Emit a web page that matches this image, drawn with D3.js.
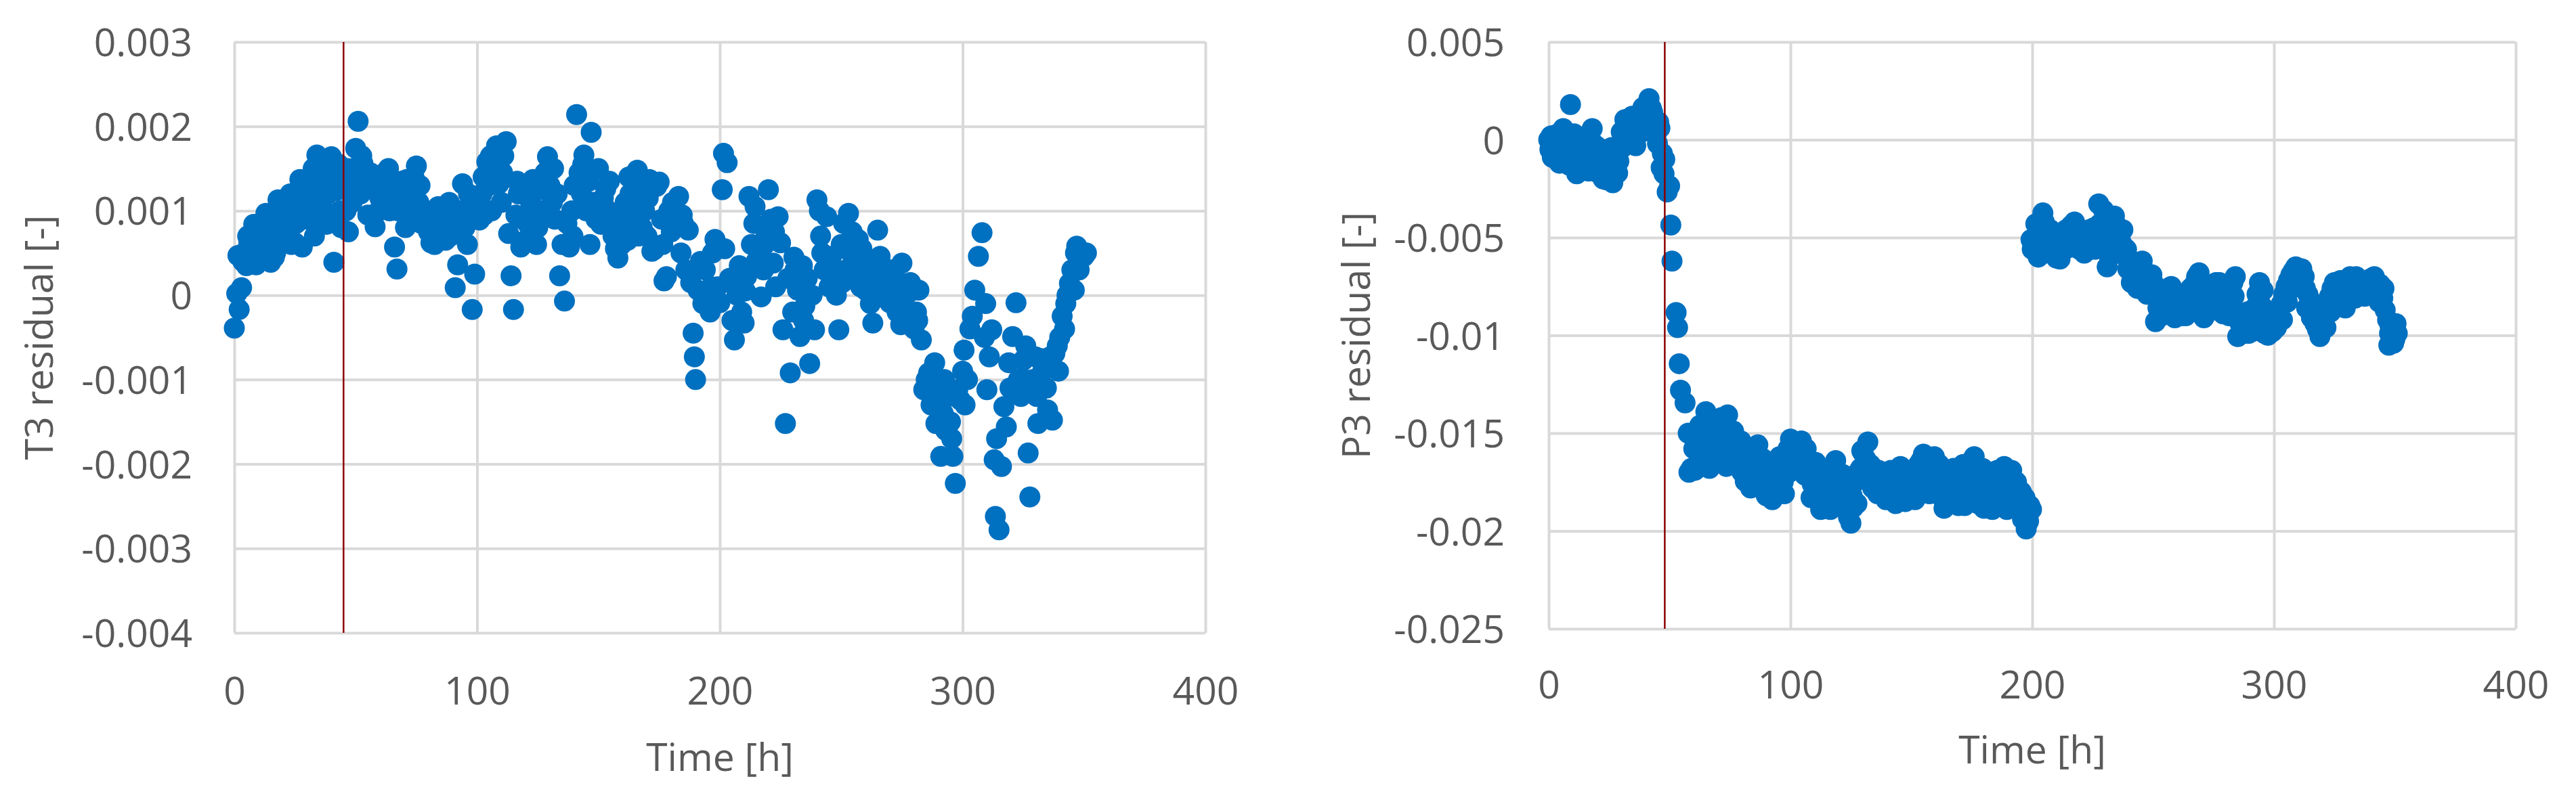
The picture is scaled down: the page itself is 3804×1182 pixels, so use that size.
<!DOCTYPE html>
<html><head><meta charset="utf-8">
<script src="https://cdn.jsdelivr.net/npm/d3@7"></script>
<style>html,body{margin:0;padding:0;background:#fff;} svg{display:block;}</style>
</head><body>
<svg id="c" width="3804" height="1182"></svg>
<script>
// ---------- data ----------
const timeTicks = [0, 100, 200, 300, 400];
const timeTickLabels = ["0", "100", "200", "300", "400"];

// residual values are stored in units of 1e-3
const t3Ticks = [3, 2, 1, 0, -1, -2, -3, -4];
const t3TickLabels = ["0.003", "0.002", "0.001", "0", "-0.001", "-0.002", "-0.003", "-0.004"];
const p3Ticks = [5, 0, -5, -10, -15, -20, -25];
const p3TickLabels = ["0.005", "0", "-0.005", "-0.01", "-0.015", "-0.02", "-0.025"];

const t3EventTime = 45;
const p3EventTime = 48;

const t3Time = [
  0,1,1.5,2,3,3.5,4,5,6,7,
  8,9,10,11,12,13,14,15,16,17,
  18,19,20,21,22,23,24,25,26,27,
  28,29,30,31,32,33,34,35,36,37,
  38,39,40,41,42,43,44,45,46,47,
  48,49,50,51,52,53,54,55,56,57,
  58,59,60,61,62,63,64,65,66,67,
  68,69,70,71,72,73,74,75,76,77,
  78,79,80,81,82,83,84,85,86,87,
  88,89,90,91,92,93,94,95,96,97,
  98,99,100,101,102,103,104,105,106,107,
  108,109,110,111,112,113,114,115,116,117,
  118,119,120,121,122,123,124,125,126,127,
  128,129,130,131,132,133,134,135,136,137,
  138,139,140,141,142,143,144,145,146,147,
  148,149,150,151,152,153,154,155,156,157,
  158,159,160,161,162,163,164,165,166,167,
  168,169,170,171,172,173,174,175,176,177,
  178,179,180,181,182,183,184,185,186,187,
  188,189,189.5,190,191,192,193,194,195,196,
  197,198,199,200,201,201.5,203,204,205,206,
  207,208,209,210,211,212,213,214,215,216,
  217,218,219,220,221,222,223,224,225,226,
  227,228,229,230,231,232,233,234,235,236,
  237,238,239,240,241,242,243,244,245,246,
  247,248,249,250,251,252,253,254,255,256,
  257,258,259,260,261,262,263,264,265,266,
  267,268,269,270,271,272,273,274,275,276,
  277,278,279,280,281,282,283,284,285,286,
  287,288,289,290,291,292,293,294,295,296,
  297,298,299,300,300.6,302,303,304,305,306.5,
  308,309,310,311,312,313,313.5,315,316,317,
  318,319,320.6,322,323,324,325,326,327,327.7,
  329,330,331,332,333,334,335,336,337,338,
  339,340,341,342,343,344,345,346,347,348,
  349,350,351,
  5.5,9.5,12.5,16.5,19.5,23.5,25.5,29.5,32.5,35.5,
  38.5,43.5,46.5,48.5,52.5,55.5,59.5,63.5,67.5,70.5,
  73.5,76.5,79.5,82.5,85.5,88.5,93.5,96.5,102.5,105.5,
  110.5,116.5,120.5,124.5,127.5,131.5,139.5,143.5,146.5,150.5,
  154.5,159.5,162.5,166.5,170.5,176.5,180.5,184.5,196.5,202,
  206.5,210.5,214.5,218.5,222.5,230.5,234.5,241.5,245.5,250.5,
  254.5,258.5,262.5,266.5,270.5,274.5,278.5,281.5,288.5,292.5,
  295.5,301,309.5,314,319.5,325.5,330.5,334.5,339.5,342.5,
  346.5
];
const t3Residual = [
  -0.39,0.02,0.47,-0.17,0.09,0.4,0.5,0.35,0.62,0.42,
  0.84,0.36,0.55,0.7,0.45,0.97,0.6,0.39,0.75,0.5,
  1.13,0.9,0.65,1.05,0.78,1.2,0.95,0.62,1.1,1.37,
  0.57,1.25,0.9,1.4,1.15,0.7,1.66,1.3,1.56,1.0,
  0.84,1.45,1.64,0.39,1.24,1.55,0.8,1.35,1.0,0.75,
  1.3,1.5,1.74,2.06,1.2,1.56,1.4,0.95,1.45,1.37,
  0.81,1.3,1.15,1.24,1.45,1.3,1.0,1.25,0.57,0.31,
  1.1,1.35,1.2,1.37,0.95,1.15,1.4,1.53,1.1,0.85,
  0.89,1.0,0.75,0.62,0.9,0.7,1.05,1.0,0.8,0.65,
  0.95,0.7,0.84,0.09,0.36,1.0,1.32,0.8,0.6,0.97,
  -0.17,0.25,1.1,0.89,1.2,0.95,1.58,1.3,1.0,1.5,
  1.77,1.32,1.1,1.65,1.82,0.73,0.23,-0.17,0.95,1.2,
  0.57,0.9,0.65,0.84,1.1,1.37,1.0,0.8,1.0,1.25,
  1.45,1.64,1.3,1.1,0.9,1.2,0.23,0.6,-0.07,0.85,
  0.57,1.0,1.3,2.14,1.45,1.2,1.66,1.0,1.35,1.93,
  1.1,0.9,1.5,0.84,1.15,1.26,1.0,0.8,0.7,0.55,
  0.44,0.9,0.84,1.1,0.65,1.2,0.95,1.3,1.48,1.1,
  0.8,1.0,0.7,1.37,0.52,0.54,1.29,1.34,0.9,0.17,
  0.22,1.0,0.75,0.95,0.85,1.17,0.5,0.85,0.3,0.77,
  0.15,-0.45,-0.73,-1.0,0.06,0.4,-0.1,0.3,0.05,-0.2,
  0.5,0.66,0.1,-0.09,1.25,1.68,1.57,0.2,-0.3,-0.53,
  0.0,0.35,-0.2,-0.33,0.22,1.17,0.6,0.85,0.4,0.5,
  -0.02,0.3,0.7,1.25,0.9,0.38,0.1,0.93,0.62,-0.41,
  -1.52,0.2,-0.92,-0.2,0.3,0.06,-0.49,0.35,-0.13,0.2,
  -0.81,0.0,-0.41,1.13,1.0,0.5,0.3,0.93,0.1,0.46,
  0.2,0.0,-0.41,0.6,0.85,0.3,0.97,0.5,0.22,0.4,
  0.66,0.1,0.3,0.06,0.35,-0.1,-0.33,0.2,0.77,0.46,
  0.1,0.0,0.25,-0.09,0.1,0.22,-0.2,0.0,0.38,-0.1,
  -0.33,-0.25,0.05,-0.4,-0.2,0.06,-0.53,-1.12,-1.0,-0.92,
  -1.3,-1.1,-1.52,-1.24,-1.91,-1.4,-1.6,-1.2,-1.5,-1.91,
  -2.23,-1.12,-1.24,-0.9,-0.65,-1.0,-0.4,-0.25,0.06,0.46,
  0.74,-0.5,-1.12,-0.73,-0.41,-1.95,-2.62,-2.78,-2.03,-1.32,
  -1.56,-0.8,-0.49,-0.09,-1.0,-1.2,-0.77,-0.6,-1.87,-2.39,
  -1.0,-0.73,-1.52,-0.75,-0.9,-0.8,-1.36,-0.73,-1.48,-0.69,
  -0.6,-0.5,-0.25,-0.4,0.0,0.14,0.3,0.06,0.58,0.3,
  0.5,0.46,0.5,
  0.7,0.5,0.85,0.45,0.7,0.6,0.85,1.0,1.5,0.85,
  1.2,1.0,1.5,1.1,1.65,1.3,1.0,1.5,1.0,0.8,
  1.25,1.3,0.95,0.6,0.85,1.1,0.75,1.2,1.4,1.65,
  1.45,1.35,1.2,0.6,0.95,1.5,0.7,1.55,0.6,1.1,
  1.35,0.6,1.4,0.7,1.15,0.6,1.1,0.95,0.1,0.55,
  0.1,0.05,1.05,0.6,0.75,0.45,-0.3,0.7,0.35,0.15,
  0.75,0.55,0.3,0.2,0.3,-0.35,0.15,-0.3,-0.8,-1.0,
  -1.7,-1.3,-0.1,-1.7,-1.1,-1.0,-1.2,-1.1,-0.9,-0.1,
  0.5
];

const p3Time = [
  0,0.5,1,2,3,4,5,6,7,8,
  9,10,11,11.6,12,13,14,15,16,17,
  18,19,20,21,22,23,24,25,26.5,27,
  28,29,30,31.5,32,33,34,35,36.5,37,
  38,39,40,41.5,42,43,44,45,46,46.5,
  47,47.7,48,49,50,50.5,51,52.7,53.3,54,
  54.5,56.4,57.7,58,59,60,61.4,62,63,65,
  65.5,66,67,68,69,70,71,72,73,74,
  75,76,77.6,78,79,80,81.3,82,83,84,
  85,86,87,88,89,90,91,92,93,94,
  95,96,97,98,99,100,101,102,103.7,104,
  105,106,107,108,109,110,111,112,113,114,
  115,116,117,118.7,119,120,121,122,123,124,
  125,126,127,128,129,130,131,132,133,133.6,
  134,135,136,137,138.6,139,140,141,142,143,
  144,145,146,147,148,149,150,151,152,153,
  154,155,156,157,158,159,160,161,162,163.5,
  164,165,166,167,168,169,170,171,172,173,
  174,175,176,177,178,179,180,181,182,183,
  184,185,186,187,188.4,189,190,191,192.5,193,
  194,195,196,197.5,198,199,199.5,200,201,202,
  203,204.4,205,206,207,208,209,210,211,212,
  213,214,215,216,217.5,218,219,220,221,222,
  223,224,225,226,227.5,228,229,230,231,232,
  233,234,235,236,237,238,239,240,241,242,
  243,244,245,246,247,248,249,250,251,252,
  253,254,255,256,257,258,259,260,261,262,
  263,264,265,266,267,268,269,270,271,272,
  273,274,275,276,277,278,279,280,281,282,
  283,284,285,286,287,288,289,290,291,292,
  293,294,295,296,297,298,299,300,301,302.5,
  303,304,305,306,307,308,309,310,311,312.5,
  313,314,315,316,317,318,319,320,321,322,
  323,324,325,326,327,328,329,330,331,332,
  333,334,335,336,337,338,339,340,341,342,
  343,344,345,346,347,347.5,348,349,350,351,
  1.5,2.5,4.5,6.5,8.5,10.5,12.5,14.5,16.5,18.5,
  20.5,22.5,24.5,26,28.5,30.5,32.5,34.5,36,38.5,
  40.5,42.5,44.5,45.5,
  60.5,62.5,64,66.5,69.5,71.5,73.5,76.5,79.5,83.5,
  86.5,88.5,90.5,92.5,95.5,97.5,99.5,101.5,104.5,106.5,
  108.5,110.5,112.5,114.5,116.5,119.5,121.5,123.5,125.5,127.5,
  129.5,131.5,134.5,136.5,139.5,141.5,143.5,145.5,147.5,149.5,
  151.5,153.5,155.5,157.5,159.5,161.5,163,165.5,167.5,169.5,
  171.5,173.5,175.5,177.5,179.5,181.5,183.5,185.5,187.5,189.5,
  191.5,193.5,195.5,197,198.5,199.7,
  200.5,201.5,202.5,204,205.5,207.5,209.5,211.5,213.5,215.5,
  217,219.5,221.5,223.5,225.5,227,229.5,231.5,233.5,235.5,
  237.5,239.5,241.5,243.5,245.5,247.5,249.5,251.5,253.5,255.5,
  257.5,259.5,261.5,263.5,265.5,267.5,269.5,271.5,273.5,275.5,
  277.5,279.5,281.5,283.5,285.5,287.5,289.5,291.5,293.5,295.5,
  297.5,299.5,301.5,303.5,305.5,307.5,309.5,311.5,313.5,315.5,
  317.5,319.5,321.5,323.5,325.5,327.5,329.5,331.5,333.5,335.5,
  337.5,339.5,341.5,343.5,345.5,347.8,349.5,350.5
];
const p3Residual = [
  0.0,-0.5,0.2,-0.3,0.26,-0.6,-0.1,0.57,-0.8,-0.3,
  1.8,-0.5,-1.0,-1.74,-0.8,-0.3,-0.05,-0.9,-0.4,0.2,
  0.57,-0.6,-0.35,-1.2,-0.9,-1.6,-2.05,-1.4,-2.2,-1.2,
  -0.6,-1.1,0.4,1.03,0.3,-0.2,0.8,0.2,0.57,1.2,
  0.9,1.65,1.3,2.1,1.0,1.4,1.03,-0.2,0.6,-1.43,
  -0.7,-1.74,-1.0,-2.67,-2.36,-4.36,-6.2,-8.83,-9.6,-11.45,
  -12.8,-13.45,-15.0,-17.0,-16.8,-15.8,-16.7,-15.2,-16.0,-13.9,
  -16.2,-15.0,-14.8,-15.6,-14.5,-15.45,-16.2,-15.0,-15.6,-14.07,
  -15.2,-16.0,-15.6,-16.5,-16.8,-17.0,-17.46,-16.6,-16.2,-16.9,
  -15.9,-16.5,-17.2,-17.8,-17.4,-18.2,-17.6,-17.0,-17.9,-17.2,
  -17.46,-16.8,-17.5,-16.4,-15.8,-15.3,-15.6,-16.1,-15.9,-16.6,
  -16.2,-17.15,-16.8,-17.3,-17.6,-17.77,-18.0,-17.4,-18.3,-17.8,
  -18.7,-17.5,-16.9,-16.4,-17.3,-17.8,-18.2,-18.6,-18.9,-19.3,
  -19.6,-18.8,-17.46,-17.0,-16.8,-16.0,-16.3,-15.45,-16.6,-17.15,
  -17.8,-17.6,-18.1,-17.7,-17.77,-17.3,-17.6,-17.9,-17.5,-17.8,
  -17.2,-17.46,-17.7,-17.9,-17.6,-18.0,-17.7,-17.9,-17.2,-16.6,
  -16.4,-16.07,-16.6,-17.0,-16.5,-17.3,-16.5,-17.6,-18.2,-18.84,
  -18.4,-17.9,-17.5,-17.8,-18.0,-17.6,-18.2,-17.7,-18.7,-17.0,
  -16.6,-16.4,-16.2,-16.9,-17.5,-18.0,-18.84,-18.3,-17.6,-17.0,
  -18.8,-18.1,-18.2,-17.3,-16.7,-17.2,-17.8,-18.2,-17.6,-18.4,
  -18.6,-18.9,-19.4,-19.9,-19.6,-18.7,-5.1,-5.6,-5.0,-5.8,
  -4.4,-3.74,-4.2,-4.5,-5.3,-5.7,-5.9,-6.05,-5.5,-5.2,
  -4.9,-4.6,-4.8,-4.4,-4.2,-4.5,-4.8,-5.0,-4.67,-5.2,
  -5.4,-5.6,-5.1,-5.6,-3.28,-4.3,-4.6,-5.2,-6.5,-6.0,
  -5.0,-3.9,-4.4,-4.67,-5.3,-5.9,-5.6,-6.3,-7.3,-6.6,
  -6.9,-6.5,-7.1,-6.67,-7.0,-7.5,-7.8,-7.3,-9.3,-8.6,
  -8.2,-8.8,-7.9,-7.6,-8.4,-8.9,-9.1,-8.5,-8.2,-8.7,
  -8.0,-8.6,-8.4,-8.0,-7.4,-7.0,-6.8,-8.3,-9.1,-8.6,
  -7.8,-7.5,-7.9,-7.3,-8.0,-8.4,-8.9,-8.2,-8.5,-7.5,
  -7.3,-7.0,-10.06,-9.4,-9.0,-9.6,-8.8,-9.45,-9.8,-8.6,
  -7.9,-7.3,-8.5,-9.9,-9.3,-9.6,-8.8,-9.2,-9.6,-9.1,
  -8.4,-7.9,-7.5,-7.2,-6.9,-6.7,-6.5,-7.2,-6.8,-7.0,
  -7.6,-7.9,-8.2,-8.8,-9.4,-9.7,-10.06,-9.3,-8.8,-8.5,
  -8.0,-7.6,-7.3,-7.8,-8.1,-7.6,-7.9,-7.2,-8.2,-7.6,
  -7.3,-7.0,-7.5,-7.8,-7.3,-7.6,-7.2,-7.1,-7.6,-7.9,
  -7.5,-7.4,-8.1,-8.7,-9.2,-10.5,-9.5,-9.75,-10.2,-9.9,
  -0.9,0.1,-1.2,-0.2,-1.3,0.3,-1.4,-0.8,-1.6,-0.2,
  -1.7,-2.0,-1.0,-0.4,-1.7,-0.4,0.9,1.2,-0.3,0.4,
  0.7,1.6,0.3,0.9,
  -16.9,-14.6,-15.4,-16.8,-16.1,-14.2,-16.7,-14.9,-15.4,-17.8,
  -15.6,-16.3,-16.9,-18.4,-16.2,-18.1,-17.0,-16.8,-15.4,-15.8,
  -18.3,-16.5,-18.9,-16.9,-18.9,-18.7,-17.1,-17.9,-18.2,-18.6,
  -15.9,-17.4,-16.8,-16.9,-18.4,-16.9,-18.6,-16.7,-18.5,-16.9,
  -18.4,-17.6,-17.4,-18.1,-16.2,-16.6,-17.6,-18.6,-16.8,-18.7,
  -16.6,-18.1,-17.6,-18.6,-16.8,-17.1,-18.9,-16.9,-18.7,-18.9,
  -16.9,-17.5,-18.0,-18.3,-19.5,-18.9,
  -5.4,-4.3,-6.0,-5.0,-5.6,-4.6,-5.1,-6.1,-5.6,-5.5,
  -5.2,-5.6,-5.8,-4.6,-4.5,-4.9,-3.6,-5.3,-4.6,-5.5,
  -4.6,-6.6,-6.2,-7.6,-6.2,-7.9,-6.9,-8.0,-9.0,-8.6,
  -7.5,-8.2,-9.0,-9.0,-7.6,-8.3,-7.6,-8.2,-8.7,-8.7,
  -7.3,-7.7,-9.0,-8.0,-9.0,-9.9,-9.9,-9.2,-8.7,-7.7,
  -10.0,-9.8,-8.7,-9.2,-8.3,-7.6,-7.3,-6.6,-8.6,-9.1,
  -8.6,-9.8,-9.6,-8.8,-8.5,-7.2,-8.6,-7.0,-8.1,-7.2,
  -8.0,-7.8,-7.0,-8.3,-7.6,-9.9,-10.4,-9.4
];

// ---------- drawing ----------
const svg = d3.select("#c");
svg.append("rect").attr("width", 3804).attr("height", 1182).attr("fill", "#ffffff");

const FONT = "'Open Sans', 'DejaVu Sans', sans-serif";
const FS = 57;
const TXT = "#595959";
const GRID = "#d9d9d9";
const DOT = "#0070c0";
const EVENT = "#8b0000";

function panel(cfg) {
  const x = d3.scaleLinear().domain([0, 400]).range([cfg.left, cfg.right]);
  const y = d3.scaleLinear().domain(cfg.yDomain).range([cfg.bottom, cfg.top]);
  const g = svg.append("g");

  // horizontal gridlines + y tick labels
  const yAxis = d3.axisLeft(y)
    .tickValues(cfg.yTicks)
    .tickFormat((d, i) => cfg.yLabels[i])
    .tickSize(-(cfg.right - cfg.left))
    .tickPadding(cfg.yPad);
  const ya = g.append("g").attr("transform", `translate(${cfg.left},0)`).call(yAxis);
  ya.select(".domain").remove();
  ya.attr("font-size", null).attr("font-family", null);
  ya.selectAll(".tick line").attr("stroke", GRID).attr("stroke-width", 4);
  ya.selectAll(".tick text").attr("fill", TXT).attr("font-family", FONT)
    .attr("font-size", FS).attr("dy", "0.36em");

  // vertical gridlines + x tick labels
  const xAxis = d3.axisBottom(x)
    .tickValues(timeTicks)
    .tickFormat((d, i) => timeTickLabels[i])
    .tickSize(-(cfg.bottom - cfg.top))
    .tickPadding(cfg.xPad);
  const xa = g.append("g").attr("transform", `translate(0,${cfg.bottom})`).call(xAxis);
  xa.select(".domain").remove();
  xa.attr("font-size", null).attr("font-family", null);
  xa.selectAll(".tick line").attr("stroke", GRID).attr("stroke-width", 4);
  xa.selectAll(".tick text").attr("fill", TXT).attr("font-family", FONT)
    .attr("font-size", FS).attr("dy", "0.71em");

  // markers
  g.append("g").selectAll("circle")
    .data(cfg.times.map((t, i) => [t, cfg.values[i]]))
    .join("circle")
    .attr("cx", d => x(d[0]))
    .attr("cy", d => y(d[1]))
    .attr("r", 15.5)
    .attr("fill", DOT);

  // event line
  g.append("line")
    .attr("x1", x(cfg.event)).attr("x2", x(cfg.event))
    .attr("y1", y(cfg.yDomain[1])).attr("y2", y(cfg.yDomain[0]))
    .attr("stroke", EVENT).attr("stroke-width", 2.5);

  // axis titles
  g.append("text")
    .attr("x", (cfg.left + cfg.right) / 2)
    .attr("y", cfg.xTitleY)
    .attr("text-anchor", "middle")
    .attr("fill", TXT).attr("font-family", FONT).attr("font-size", FS)
    .text("Time [h]");
  g.append("text")
    .attr("transform", `translate(${cfg.yTitleX},${(cfg.top + cfg.bottom) / 2}) rotate(-90)`)
    .attr("text-anchor", "middle")
    .attr("fill", TXT).attr("font-family", FONT).attr("font-size", FS)
    .text(cfg.yTitle);
}

panel({
  left: 346, right: 1780, top: 62, bottom: 935,
  yDomain: [-4, 3], yTicks: t3Ticks, yLabels: t3TickLabels,
  yPad: 62, xPad: 66,
  times: t3Time, values: t3Residual, event: t3EventTime,
  xTitleY: 1139, yTitleX: 78, yTitle: "T3 residual [-]"
});

panel({
  left: 2287, right: 3715, top: 62, bottom: 929,
  yDomain: [-25, 5], yTicks: p3Ticks, yLabels: p3TickLabels,
  yPad: 65, xPad: 63,
  times: p3Time, values: p3Residual, event: p3EventTime,
  xTitleY: 1128, yTitleX: 2023, yTitle: "P3 residual [-]"
});
</script>
</body></html>
